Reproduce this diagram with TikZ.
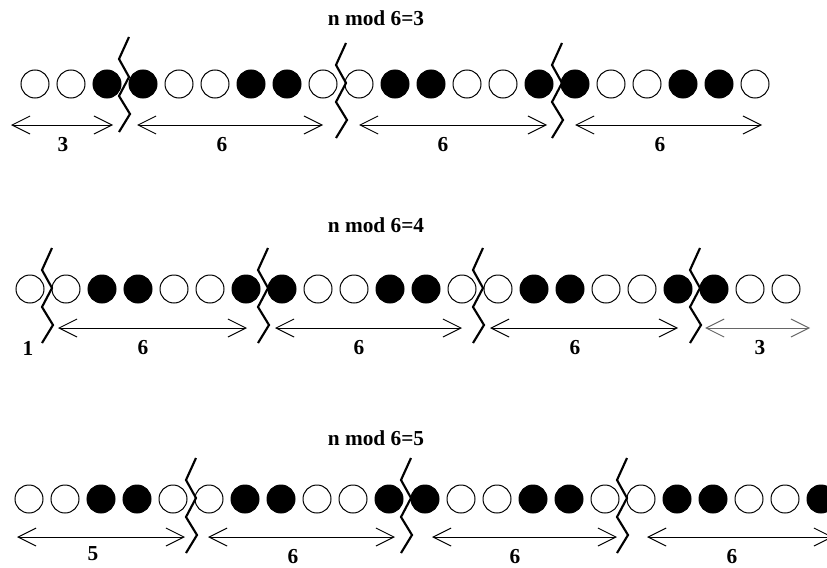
\documentclass[tikz,border=0pt]{standalone}
\usepackage{fontspec}
\setmainfont{Liberation Serif}
\usepackage{tikz}
\usetikzlibrary{arrows.meta}

\begin{document}
\begin{tikzpicture}[
  x=0.75pt, y=-0.75pt,
  font=\fontsize{16}{18}\selectfont\bfseries,
  bead/.style={circle, draw, line width=0.75pt, inner sep=0pt, minimum size=21pt},
  cut/.style={line width=1.6pt, line join=miter},
  span/.style={{Straight Barb[length=13.5pt,width=13.5pt]}-{Straight Barb[length=13.5pt,width=13.5pt]},
               line width=0.75pt},
  num/.style={inner sep=0pt},
  title/.style={inner sep=0pt}
]
\useasboundingbox (0,0) rectangle (827,567);

% n mod 6 = 3
\node[title] (t1) at (376,18) {n mod 6=3};
\foreach \k in {0,...,20} {
  \pgfmathtruncatemacro\dark{mod(\k,4)>1}
  \ifnum\dark=1 \def\bcol{black}\else\def\bcol{white}\fi
  \node[bead, fill=\bcol] (a\k) at (35+36*\k,84) {};
}
\foreach \bx/\by in {124/78,341/84,557/84}
  \draw[cut] (\bx+5,\by-41) -- ++(-10,22) -- ++(10,18) -- ++(-10,19) -- ++(11,18) -- ++(-11,18);
\foreach \s/\e/\lx/\t [count=\i] in {11/113/63/3,137/323/222/6,359/547/443/6,575/762/660/6} {
  \coordinate (a-l\i) at (\s,125);
  \coordinate (a-r\i) at (\e,125);
  \draw[span] (a-l\i) -- (a-r\i);
  \node[num] (a-n\i) at (\lx,145) {\t};
}

% n mod 6 = 4
\node[title] (t2) at (376,225) {n mod 6=4};
\foreach \k in {0,...,21} {
  \pgfmathtruncatemacro\dark{mod(\k,4)>1}
  \ifnum\dark=1 \def\bcol{black}\else\def\bcol{white}\fi
  \node[bead, fill=\bcol] (b\k) at (30+36*\k,289) {};
}
\foreach \bx in {47,263,478,695}
  \draw[cut] (\bx+5,289-41) -- ++(-10,22) -- ++(10,18) -- ++(-10,19) -- ++(11,18) -- ++(-11,18);
\node[num] (b-n0) at (28,348) {1};
\foreach \s/\e/\lx/\t/\c [count=\i] in {58/247/143/6/black,275/462/359/6/black,490/678/575/6/black,705/810/760/3/black!60} {
  \coordinate (b-l\i) at (\s,328);
  \coordinate (b-r\i) at (\e,328);
  \draw[span, draw=\c] (b-l\i) -- (b-r\i);
  \node[num] (b-n\i) at (\lx,348) {\t};
}

% n mod 6 = 5
\node[title] (t3) at (376,438) {n mod 6=5};
\foreach \k in {0,...,22} {
  \pgfmathtruncatemacro\dark{mod(\k,4)>1}
  \ifnum\dark=1 \def\bcol{black}\else\def\bcol{white}\fi
  \node[bead, fill=\bcol] (c\k) at (29+36*\k,499) {};
}
\foreach \bx in {191,406,622}
  \draw[cut] (\bx+5,499-41) -- ++(-10,22) -- ++(10,18) -- ++(-10,19) -- ++(11,18) -- ++(-11,18);
\foreach \s/\e/\lx/\ly/\t [count=\i] in {17/185/93/554/5,208/395/293/557/6,432/617/515/557/6,647/833/732/557/6} {
  \coordinate (c-l\i) at (\s,537);
  \coordinate (c-r\i) at (\e,537);
  \draw[span] (c-l\i) -- (c-r\i);
  \node[num] (c-n\i) at (\lx,\ly) {\t};
}

\end{tikzpicture}
\end{document}
